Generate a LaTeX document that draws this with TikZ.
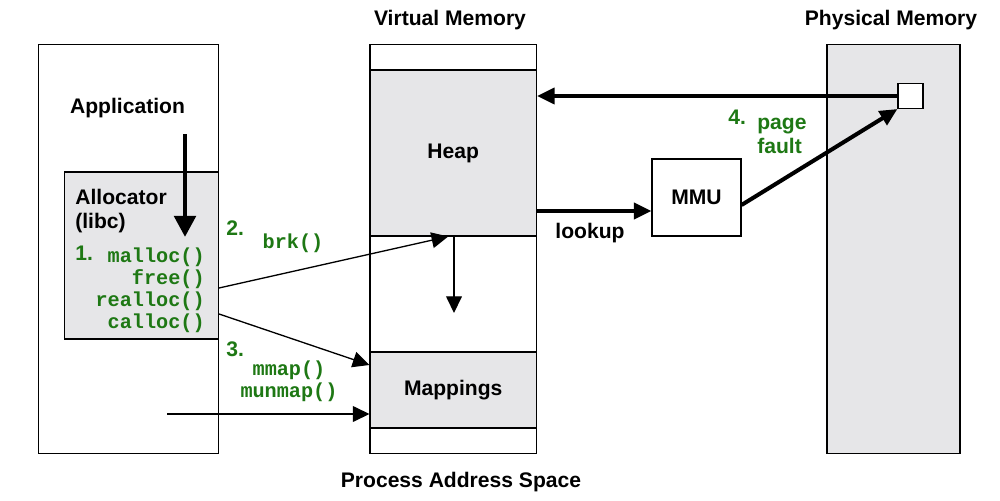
\documentclass[tikz,border=0pt]{standalone}
\usepackage{fontspec}
\setmainfont{Liberation Sans}
\setmonofont{Liberation Mono}
\usetikzlibrary{arrows.meta,calc}
\definecolor{codegreen}{RGB}{30,120,20}
\definecolor{memgray}{RGB}{230,230,232}

\begin{document}
\begin{tikzpicture}[x=0.02cm,y=-0.02cm,
    box/.style={draw, line width=0.6pt, inner sep=0pt},
    graybox/.style={box, fill=memgray},
    lbl/.style={font=\fontsize{12}{13.6}\selectfont\bfseries, inner sep=0pt},
    num/.style={lbl, text=codegreen},
    code/.style={font=\fontsize{11.5}{12.4}\selectfont\ttfamily\bfseries, text=codegreen, inner sep=0pt},
    callarrow/.style={-{Triangle[length=9.5pt,width=9pt]}, line width=0.75pt},
    bigarrow/.style={-{Triangle[length=10pt,width=9pt]}, line width=2.3pt}]
  \useasboundingbox (0,0) rectangle (1000,500);

  % columns
  \node[box, minimum width=3.6cm, minimum height=8.2cm] (app) at (128.5,249) {};
  \node[graybox, minimum width=3.08cm, minimum height=3.34cm] (alloc) at (141.5,255.5) {};
  \node[box, minimum width=3.33cm, minimum height=8.2cm] (vm) at (453.25,249) {};
  \node[graybox, lbl, minimum width=3.33cm, minimum height=3.32cm] (heap) at (453.25,153) {Heap};
  \node[graybox, lbl, minimum width=3.33cm, minimum height=1.52cm] (mappings) at (453.25,390) {Mappings};
  \node[graybox, minimum width=2.66cm, minimum height=8.2cm] (phys) at (893.5,249) {};
  \node[box, fill=white, minimum size=0.5cm] (page) at (910.5,96) {};
  \node[box, lbl, minimum width=1.78cm, minimum height=1.54cm] (mmu) at (696.5,197.5) {MMU};

  % titles
  \node[lbl, anchor=base] (vmtitle) at (450,26) {Virtual Memory};
  \node[lbl, anchor=base] (phystitle) at (891,26) {Physical Memory};
  \node[lbl, anchor=base] (pastitle) at (461,487) {Process Address Space};

  % labels
  \node[lbl, anchor=base] (apptxt) at (127.5,113) {Application};
  \node[lbl, anchor=north west, align=left] (alloctxt) at (75,189) {Allocator\\(libc)};
  \node[num, anchor=base west] (n1) at (75,260) {1.};
  \node[code, anchor=north east, align=right] (calls) at (205,248) {malloc()\\free()\\realloc()\\calloc()};
  \node[num, anchor=base west] (n2) at (226,235) {2.};
  \node[code, anchor=base] (brk) at (293,248) {brk()};
  \node[num, anchor=base west] (n3) at (226,356) {3.};
  \node[code, anchor=north, align=center] (mmap) at (289,361) {mmap()\\munmap()};
  \node[num, anchor=base west] (n4) at (728,125) {4.};
  \node[num, anchor=north west, align=left] (fault) at (757,118) {page\\fault};
  \node[lbl, anchor=base] (lookuptxt) at (590,238) {lookup};

  % arrows
  \coordinate (appstart) at (185,134);
  \coordinate (append) at (185,237);
  \coordinate (heapgrow) at (454,313);
  \coordinate (direct) at (167,414);
  \coordinate (lookup) at ([yshift=-0.27cm]mmu.west);
  \draw[-{Triangle[length=12pt,width=12pt]}, line width=2.8pt] (appstart) -- (append);
  \draw[callarrow] ([yshift=-0.65cm]alloc.east) -- ([xshift=-0.1cm]heap.south);
  \draw[callarrow] ([yshift=-1.17cm]alloc.east) -- ([yshift=0.5cm]mappings.west);
  \draw[callarrow] (direct) -- (direct -| mappings.west);
  \draw[callarrow] (heap.south -| heapgrow) -- (heapgrow);
  \draw[bigarrow] (page.west) -- (page.west -| heap.east);
  \draw[bigarrow] (lookup -| heap.east) -- (lookup);
  \draw[bigarrow] ([yshift=-0.15cm]mmu.east) -- (page.south west);
\end{tikzpicture}
\end{document}
